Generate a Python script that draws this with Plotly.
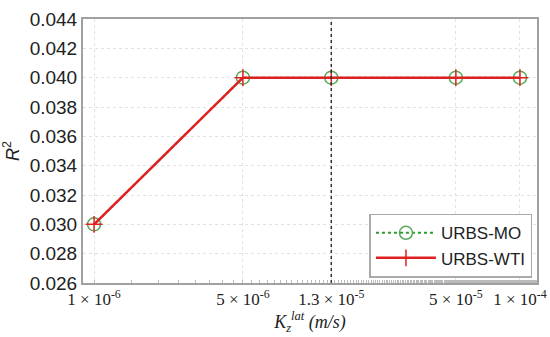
import plotly.graph_objects as go

ks = [1e-6, 5e-6, 1.3e-5, 5e-5, 1e-4]
r2_mo = [0.030, 0.040, 0.040, 0.040, 0.040]
r2_wti = [0.030, 0.040, 0.040, 0.040, 0.040]
x_tickvals = [1e-6, 5e-6, 1.3e-5, 5e-5, 1e-4]
x_ticktext = ["1 × 10<sup>-6</sup>", "5 × 10<sup>-6</sup>", "1.3 × 10<sup>-5</sup>",
              "5 × 10<sup>-5</sup>", "1 × 10<sup>-4</sup>"]
y_tickvals = [0.026, 0.028, 0.030, 0.032, 0.034, 0.036, 0.038, 0.040, 0.042, 0.044]
ref_ks = 1.3e-5

fig = go.Figure()
fig.add_trace(go.Scatter(
    x=ks, y=r2_mo, name="URBS-MO", mode="lines+markers",
    line=dict(color="#2e9a2e", width=2, dash="dot"),
    marker=dict(symbol="circle-open", size=13, color="#5aa85a", line=dict(width=1.5)),
))
fig.add_trace(go.Scatter(
    x=ks, y=r2_wti, name="URBS-WTI", mode="lines+markers",
    line=dict(color="#e02020", width=2.5),
    marker=dict(symbol="cross-thin-open", size=12, color="#e02020", line=dict(width=1.5, color="#e02020")),
))
fig.add_vline(x=ref_ks, line=dict(color="#333333", width=1.5, dash="dot"))

fig.update_layout(
    width=550, height=337,
    margin=dict(l=83, r=13, t=19, b=54, autoexpand=False),
    paper_bgcolor="white", plot_bgcolor="white",
    showlegend=True,
    legend=dict(x=0.99, y=0.02, xanchor="right", yanchor="bottom",
                bordercolor="#aaaaaa", borderwidth=1.5, bgcolor="white",
                font=dict(family="Liberation Sans, Arial", size=17, color="#222"),
                tracegroupgap=4, itemwidth=60),
)
fig.update_xaxes(
    type="log", range=[-6.052, -3.92], automargin=False,
    tickvals=x_tickvals, ticktext=x_ticktext,
    tickfont=dict(family="Liberation Serif, Times New Roman", size=17, color="#222"),
    showgrid=True, gridcolor="#e2e2e2", griddash="dot", gridwidth=1,
    showline=True, linecolor="#a0a0a0", linewidth=2, mirror=True,
    ticks="", zeroline=False,
    minor=dict(ticks="inside", ticklen=3, tickcolor="#bbbbbb", showgrid=False),
    title=dict(text="<i>K<sub>z</sub><sup>lat</sup> (m/s)</i>",
               font=dict(family="Liberation Serif, Times New Roman", size=18, color="#222"),
               standoff=4),
)
fig.update_yaxes(
    range=[0.026, 0.044], tickvals=y_tickvals, tickformat=".3f", automargin=False,
    tickfont=dict(family="Liberation Sans, Arial", size=19, color="#222"),
    showgrid=True, gridcolor="#e2e2e2", griddash="dot", gridwidth=1,
    showline=True, linecolor="#a0a0a0", linewidth=2, mirror=True,
    ticks="", zeroline=False,
    title=dict(text="<i>R</i><sup>2</sup>",
               font=dict(family="Liberation Sans, Arial", size=18, color="#222"),
               standoff=6),
)

fig.write_html("out.html", config={"displayModeBar": False},
               post_script="document.body.style.margin='0';document.body.style.overflow='hidden';")
